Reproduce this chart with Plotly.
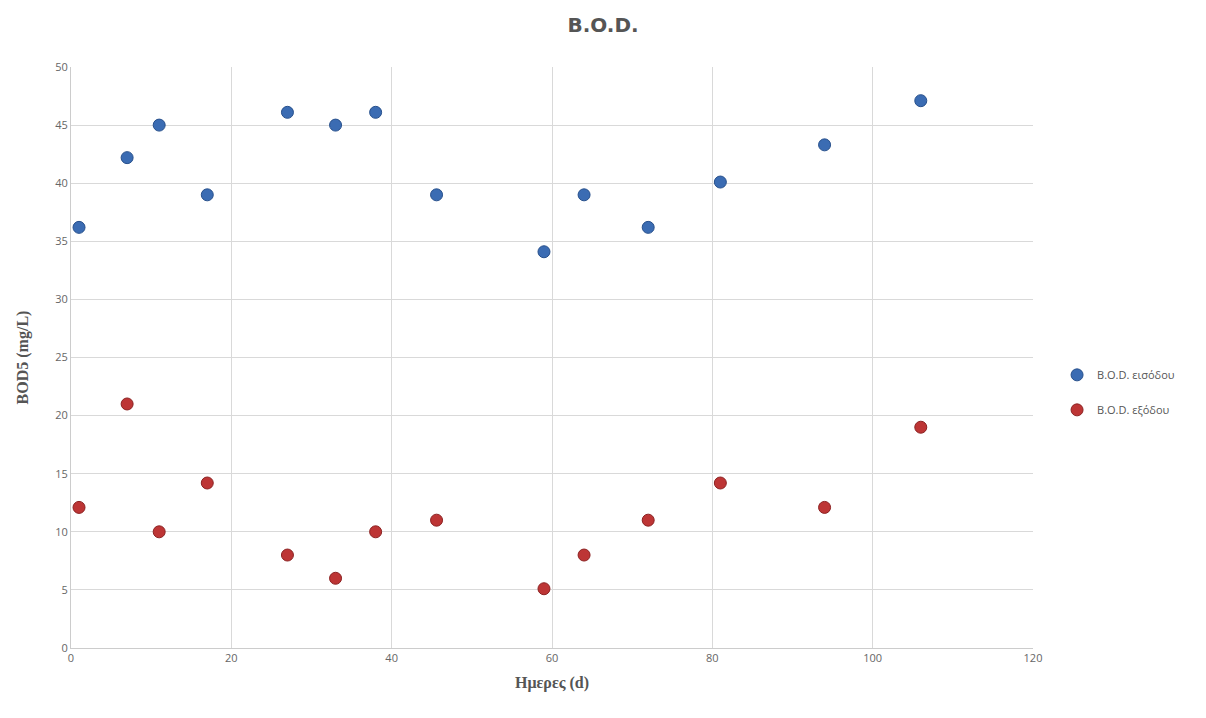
import plotly.graph_objects as go

days = [1, 7, 11, 17, 27, 33, 38, 45.6, 59, 64, 72, 81, 94, 106]
bod_in = [36.2, 42.2, 45.0, 39.0, 46.1, 45.0, 46.1, 39.0, 34.1, 39.0, 36.2, 40.1, 43.3, 47.1]
bod_out = [12.1, 21.0, 10.0, 14.2, 8.0, 6.0, 10.0, 11.0, 5.1, 8.0, 11.0, 14.2, 12.1, 19.0]

fig = go.Figure()
fig.add_trace(go.Scatter(x=days, y=bod_in, mode="markers", name="B.O.D. εισόδου", legendgroup="in",
                         marker=dict(size=12, color="#3b6cb3", line=dict(color="#27508c", width=1))))
fig.add_trace(go.Scatter(x=days, y=bod_out, mode="markers", name="B.O.D. εξόδου", legendgroup="out",
                         marker=dict(size=12, color="#bd3535", line=dict(color="#8c2222", width=1))))

fig.update_layout(
    width=1206, height=718,
    paper_bgcolor="white", plot_bgcolor="white",
    margin=dict(l=71, r=173, t=67, b=70),
    title=dict(text="<b>B.O.D.</b>", x=0.5, xanchor="center", y=0.975, yanchor="top",
               font=dict(family="DejaVu Sans", size=20, color="#555555")),
    legend=dict(x=1.025, y=0.44, xanchor="left", yanchor="middle",
                font=dict(family="Open Sans", size=11, color="#555555"),
                tracegroupgap=16),
    xaxis=dict(range=[0, 120], dtick=20, showgrid=True, gridcolor="#d9d9d9", gridwidth=1,
               showline=True, linecolor="#cccccc", zeroline=False,
               tickfont=dict(family="Open Sans", size=11, color="#666666"),
               title=dict(text="<b>Ημερες (d)</b>", standoff=12,
                          font=dict(family="Liberation Serif", size=16, color="#555555"))),
    yaxis=dict(range=[0, 50], dtick=5, showgrid=True, gridcolor="#d9d9d9", gridwidth=1,
               showline=True, linecolor="#cccccc", zeroline=False,
               tickfont=dict(family="Open Sans", size=11, color="#666666"),
               title=dict(text="<b>BOD5 (mg/L)</b>", standoff=22,
                          font=dict(family="Liberation Serif", size=16, color="#555555"))),
)

fig.write_html("out.html")
